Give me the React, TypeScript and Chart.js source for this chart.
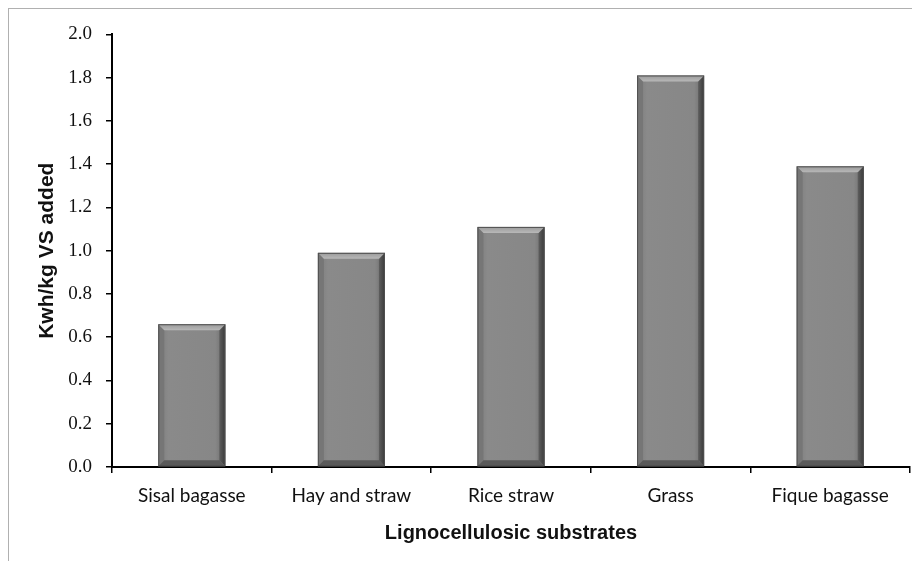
import React, { useEffect, useRef } from "react";
import { Chart, registerables } from "chart.js";

Chart.register(...registerables);

const categories = ["Sisal bagasse", "Hay and straw", "Rice straw", "Grass", "Fique bagasse"];
const values = [0.66, 0.99, 1.11, 1.81, 1.39];
const yTitle = "Kwh/kg VS added";
const xTitle = "Lignocellulosic substrates";

const bevelPlugin = {
  id: "bevel",
  afterDatasetsDraw(chart: any) {
    const ctx = chart.ctx;
    const meta = chart.getDatasetMeta(0);
    meta.data.forEach((el: any) => {
      const { x, y, base, width } = el.getProps(["x", "y", "base", "width"], true);
      const L = x - width / 2;
      const R = x + width / 2;
      const T = Math.min(y, base);
      const B = Math.max(y, base);
      const b = 6;
      ctx.save();
      const body = ctx.createLinearGradient(L, 0, R, 0);
      body.addColorStop(0, "#7c7c7c");
      body.addColorStop(0.15, "#8a8a8a");
      body.addColorStop(0.85, "#878787");
      body.addColorStop(1, "#6a6a6a");
      ctx.fillStyle = body;
      ctx.fillRect(L, T, R - L, B - T);
      ctx.beginPath();
      ctx.moveTo(L, T); ctx.lineTo(L + b, T + b); ctx.lineTo(L + b, B - b); ctx.lineTo(L, B); ctx.closePath();
      ctx.fillStyle = "#767676"; ctx.fill();
      const rg = ctx.createLinearGradient(R - b, 0, R, 0);
      rg.addColorStop(0, "#5e5e5e");
      rg.addColorStop(1, "#3a3a3a");
      ctx.beginPath();
      ctx.moveTo(R, T); ctx.lineTo(R - b, T + b); ctx.lineTo(R - b, B - b); ctx.lineTo(R, B); ctx.closePath();
      ctx.fillStyle = rg; ctx.fill();
      ctx.beginPath();
      ctx.moveTo(L, B); ctx.lineTo(L + b, B - b); ctx.lineTo(R - b, B - b); ctx.lineTo(R, B); ctx.closePath();
      ctx.fillStyle = "#5a5a5a"; ctx.fill();
      const tg = ctx.createLinearGradient(0, T, 0, T + b);
      tg.addColorStop(0, "#9a9a9a");
      tg.addColorStop(1, "#b8b8b8");
      ctx.beginPath();
      ctx.moveTo(L, T); ctx.lineTo(R, T); ctx.lineTo(R - b, T + b); ctx.lineTo(L + b, T + b); ctx.closePath();
      ctx.fillStyle = tg; ctx.fill();
      ctx.strokeStyle = "#505050";
      ctx.lineWidth = 1;
      ctx.strokeRect(L + 0.5, T + 0.5, R - L - 1, B - T - 1);
      ctx.restore();
    });
  },
};

export default function App() {
  const ref = useRef<HTMLCanvasElement>(null);
  useEffect(() => {
    if (!ref.current) return;
    const chart = new Chart(ref.current, {
      type: "bar",
      data: {
        labels: categories,
        datasets: [
          {
            data: values,
            backgroundColor: "rgba(0,0,0,0)",
            borderWidth: 0,
            categoryPercentage: 1,
            barPercentage: 0.42,
          },
        ],
      },
      plugins: [bevelPlugin],
      options: {
        animation: false,
        responsive: false,
        maintainAspectRatio: false,
        layout: { padding: { left: 0, top: 24, right: 10, bottom: 0 } },
        plugins: { legend: { display: false }, tooltip: { enabled: false } },
        scales: {
          x: {
            grid: { display: true, drawOnChartArea: false, drawTicks: true, tickLength: 6, color: "#000", lineWidth: 1.5, offset: true },
            border: { display: true, color: "#000", width: 2 },
            ticks: { color: "#111", padding: 11, maxRotation: 0, font: { family: "Lato", size: 19 } },
            title: {
              display: true,
              text: xTitle,
              color: "#111",
              font: { family: "Liberation Sans", size: 20, weight: "bold" },
              padding: { top: 0, bottom: 16 },
            },
            afterFit: (s: any) => { s.height = 94; },
          },
          y: {
            min: 0,
            max: 2.0,
            ticks: {
              stepSize: 0.2,
              color: "#111",
              padding: 14,
              font: { family: "Liberation Serif", size: 19 },
              callback: (v: any) => Number(v).toFixed(1),
            },
            grid: { display: true, drawOnChartArea: false, drawTicks: true, tickLength: 6, color: "#000", lineWidth: 1.5 },
            border: { display: true, color: "#000", width: 2 },
            title: {
              display: true,
              text: yTitle,
              color: "#111",
              font: { family: "Liberation Sans", size: 21, weight: "bold" },
              padding: { top: 26, bottom: 0 },
            },
            afterFit: (s: any) => { s.width = 103; },
          },
        },
      },
    });
    return () => chart.destroy();
  }, []);
  return (
    <div style={{ width: 911, height: 552, borderLeft: "1px solid #b0b0b0", borderTop: "1px solid #b0b0b0", overflow: "hidden" }}>
      <canvas ref={ref} width={911} height={552} style={{ display: "block", width: 911, height: 552 }} />
    </div>
  );
}
